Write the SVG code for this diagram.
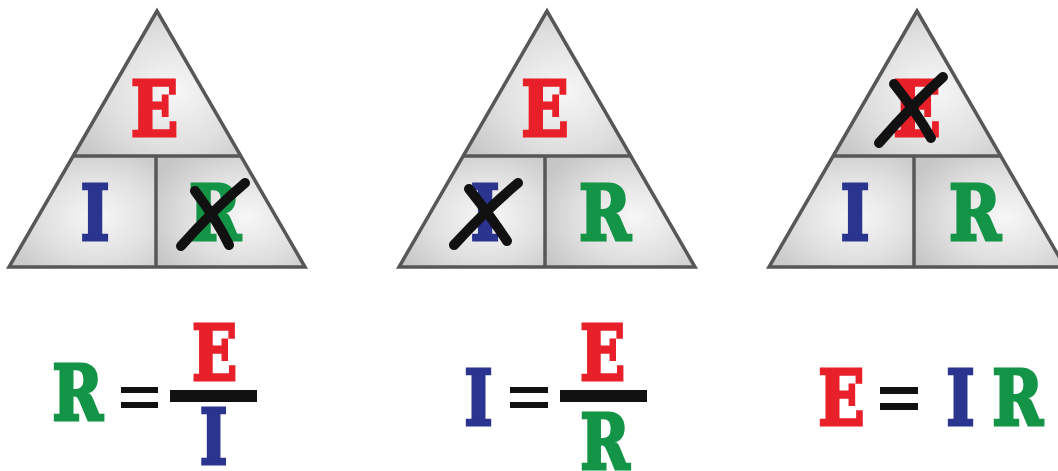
<svg xmlns="http://www.w3.org/2000/svg" width="1058" height="471" viewBox="0 0 1058 471">
<defs>
<radialGradient id="g" cx="0.6" cy="0.55" r="0.7">
<stop offset="0" stop-color="#f7f7f7"/>
<stop offset="0.55" stop-color="#e0e0e0"/>
<stop offset="1" stop-color="#c6c6c6"/>
</radialGradient>
<style>
.cell{fill:url(#g);stroke:none}
.out{fill:none;stroke:#575757;stroke-width:3.5;stroke-linejoin:miter}
.div{stroke:#575757;stroke-width:3.5;fill:none}
.L{font-family:"DejaVu Serif","Liberation Serif",serif;font-weight:bold;font-size:76px;text-anchor:middle;stroke-width:3.2;stroke-linejoin:miter}
.r{fill:#e8202a;stroke:#e8202a}.b{fill:#2b3590;stroke:#2b3590}.gr{fill:#139446;stroke:#139446}
.x{stroke:#111;stroke-width:10;stroke-linecap:round;fill:none}
.eq{fill:#111}
</style>
</defs>
<rect width="1058" height="471" fill="#fff"/>

<g id="triangle1">
<path class="cell" d="M157,11 L74,156 L240,156 Z"/>
<path class="cell" d="M74,156 L9,267 L156,267 L156,156 Z"/>
<path class="cell" d="M156,156 L156,267 L305,267 L240,156 Z"/>
<path class="out" d="M157,11 L9,267 L305,267 Z"/>
<path class="div" d="M74,156 L240,156 M156,156 L156,267"/>
<text class="L r" transform="translate(154.5,136) scale(0.82,1)">E</text>
<text class="L b" transform="translate(95,240) scale(0.82,1)">I</text>
<text class="L gr" transform="translate(215,240) scale(0.82,1)">R</text>
<path class="x" d="M181,246 Q214,209 245,183 M195,191 Q217,220 229,245"/>
</g>

<g id="triangle2">
<path class="cell" d="M547,11 L464,156 L630,156 Z"/>
<path class="cell" d="M464,156 L399,267 L545,267 L545,156 Z"/>
<path class="cell" d="M545,156 L545,267 L695,267 L630,156 Z"/>
<path class="out" d="M547,11 L399,267 L695,267 Z"/>
<path class="div" d="M464,156 L630,156 M545,156 L545,267"/>
<text class="L r" transform="translate(545,136) scale(0.82,1)">E</text>
<text class="L b" transform="translate(485,240) scale(0.82,1)">I</text>
<text class="L gr" transform="translate(605,240) scale(0.82,1)">R</text>
<path class="x" d="M454,245 Q488,208 518,183 M469,189 Q492,218 507,241"/>
</g>

<g id="triangle3">
<path class="cell" d="M917,11 L834,156 L1000,156 Z"/>
<path class="cell" d="M834,156 L769,267 L914,267 L914,156 Z"/>
<path class="cell" d="M914,156 L914,267 L1065,267 L1000,156 Z"/>
<path class="out" d="M917,11 L769,267 L1065,267 Z"/>
<path class="div" d="M834,156 L1000,156 M914,156 L914,267"/>
<text class="L r" transform="translate(917,136) scale(0.82,1)">E</text>
<text class="L b" transform="translate(855,240) scale(0.82,1)">I</text>
<text class="L gr" transform="translate(975,240) scale(0.82,1)">R</text>
<path class="x" d="M879,143 Q913,104 943,77 M894,84 Q917,113 931,138"/>
</g>

<g id="formula1">
<text class="L gr" transform="translate(77.5,420) scale(0.8,1)">R</text>
<rect class="eq" x="121" y="387" width="37" height="6"/>
<rect class="eq" x="121" y="402" width="37" height="6"/>
<rect class="eq" x="170" y="390" width="87" height="12"/>
<text class="L r" transform="translate(214.5,380) scale(0.78,1)">E</text>
<text class="L b" transform="translate(213.5,464) scale(0.78,1)">I</text>
</g>

<g id="formula2">
<text class="L b" transform="translate(478.5,425) scale(0.8,1)">I</text>
<rect class="eq" x="510" y="387" width="38" height="6"/>
<rect class="eq" x="510" y="402" width="38" height="6"/>
<rect class="eq" x="560" y="390" width="87" height="12"/>
<text class="L r" transform="translate(602.5,380) scale(0.78,1)">E</text>
<text class="L gr" transform="translate(605,469) scale(0.78,1)">R</text>
</g>

<g id="formula3">
<text class="L r" transform="translate(841.5,425) scale(0.8,1)">E</text>
<rect class="eq" x="880" y="387" width="38" height="7"/>
<rect class="eq" x="880" y="403" width="38" height="7"/>
<text class="L b" transform="translate(960.5,425) scale(0.8,1)">I</text>
<text class="L gr" transform="translate(1017.5,425) scale(0.8,1)">R</text>
</g>
</svg>
